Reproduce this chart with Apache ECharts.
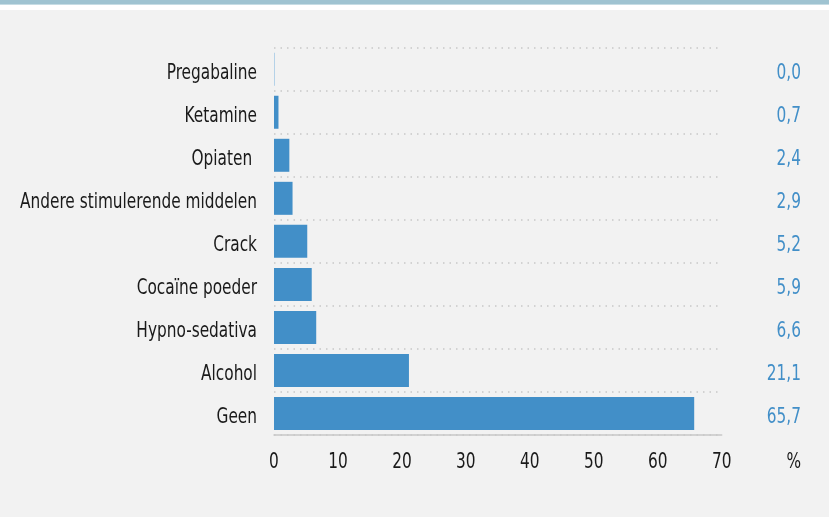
<!DOCTYPE html>
<html>
<head>
<meta charset="utf-8">
<script src="https://cdn.jsdelivr.net/npm/echarts@6/dist/echarts.min.js"></script>
<style>
  html, body { margin: 0; padding: 0; background: #f2f2f2; }
  #chart { width: 829px; height: 517px; }
</style>
</head>
<body>
<div id="chart"></div>
<script>
// Middelen (bottom-to-top order as drawn on the category axis)
const categories = ['Geen', 'Alcohol', 'Hypno-sedativa', 'Cocaïne poeder', 'Crack',
  'Andere stimulerende middelen', 'Opiaten ', 'Ketamine', 'Pregabaline'];
const values = [65.7, 21.1, 6.6, 5.9, 5.2, 2.9, 2.4, 0.7, 0.0];
const xTicks = [0, 10, 20, 30, 40, 50, 60, 70];
const unitLabel = '%';

const FONT = '"DejaVu Sans Condensed", "DejaVu Sans", sans-serif';
const BLUE = '#428fc8';
const INK = '#1a1a1a';
const FS = 22;          // tall, narrow lettering: large size, squeezed horizontally
const SQUEEZE = 0.775;

const fmt = v => v.toFixed(1).replace('.', ',');

// header band
const header = [
  { type: 'rect', left: 0, top: 0, shape: { width: 829, height: 4 }, style: { fill: '#9fc3d1' }, silent: true },
  { type: 'rect', left: 0, top: 4, shape: { width: 829, height: 1 }, style: { fill: '#c6dce4' }, silent: true },
  { type: 'rect', left: 0, top: 5, shape: { width: 829, height: 5 }, style: { fill: '#ffffff' }, silent: true }
];

const chart = echarts.init(document.getElementById('chart'));
chart.setOption({
  backgroundColor: '#f2f2f2',
  animation: false,
  graphic: header,
  grid: { left: 274, right: 107.3, top: 47.7, bottom: 82, containLabel: false, outerBoundsMode: 'none' },
  xAxis: {
    type: 'value',
    min: xTicks[0],
    max: xTicks[xTicks.length - 1],
    interval: 10,
    axisLine: { show: true, lineStyle: { color: '#c8c8c8', width: 1.5 } },
    axisTick: { show: false },
    splitLine: { show: false },
    axisLabel: { show: false }
  },
  yAxis: {
    type: 'category',
    data: categories,
    axisLine: { show: false },
    axisTick: { show: false },
    splitLine: { show: true, lineStyle: { color: '#c8c8c8', type: [1.5, 5], width: 1.5 } },
    axisLabel: { show: false }
  },
  series: [{
    type: 'bar',
    data: values,
    barWidth: 33,
    barMinHeight: 1,
    itemStyle: { color: p => (p.value === 0 ? '#b5d2e8' : BLUE) },
    silent: true
  }]
});

// Axis and value labels, positioned through the chart's own scales
function label(x, y, text, align, fill) {
  return {
    type: 'text', x: x, y: y, scaleX: SQUEEZE, silent: true,
    style: { text: text, x: 0, y: 0, font: FS + 'px ' + FONT, fill: fill, align: align, verticalAlign: 'middle' }
  };
}

const els = header.slice();
categories.forEach((c, i) => {
  const y = chart.convertToPixel({ yAxisIndex: 0 }, i) + 4;
  els.push(label(257, y, c, 'right', INK));
  els.push(label(801, y, fmt(values[i]), 'right', BLUE));
});
xTicks.forEach(t => {
  const x = chart.convertToPixel({ xAxisIndex: 0 }, t);
  els.push(label(x, 462.5, String(t), 'center', INK));
});
els.push(label(801, 462.5, unitLabel, 'right', INK));
chart.setOption({ graphic: els });
</script>
</body>
</html>
